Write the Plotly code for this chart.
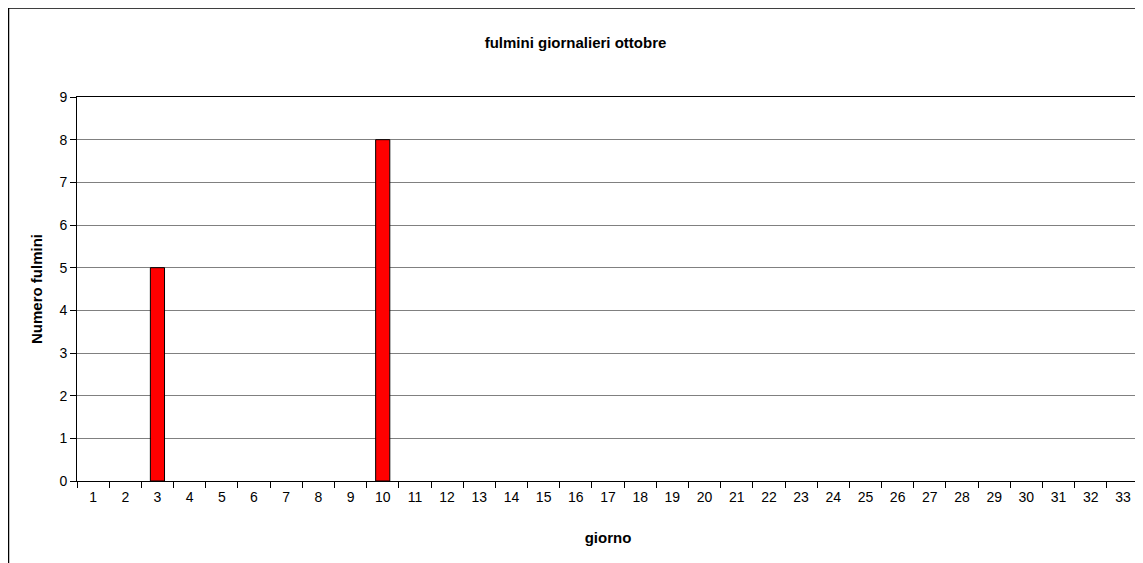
'''
    Bar chart of the daily lightning strikes in October.
'''

import plotly.graph_objects as go

giorni = [str(g) for g in range(1, 34)]
fulmini = [0, 0, 5, 0, 0, 0, 0, 0, 0, 8,
           0, 0, 0, 0, 0, 0, 0, 0, 0, 0,
           0, 0, 0, 0, 0, 0, 0, 0, 0, 0,
           0, 0, 0]

FONT = "Liberation Sans, Arial, sans-serif"

# Excel leaves the zero days empty
fig = go.Figure(go.Bar(
    x=giorni, y=[v if v else None for v in fulmini],
    marker=dict(color="#ff0000", line=dict(color="black", width=1)),
))

# the page body has an 8px margin, so the figure starts at (8, 8)
fig.update_layout(
    width=1135, height=555,
    margin=dict(l=69, r=4, t=89, b=82),
    paper_bgcolor="white", plot_bgcolor="white",
    bargap=0.56,
    showlegend=False,
    font=dict(family=FONT, size=14, color="black"),
    title=dict(text="<b>fulmini giornalieri ottobre</b>", x=0.5, xanchor="center",
               y=0.937, yanchor="middle", font=dict(size=15, family=FONT)),
)

fig.update_xaxes(
    type="category", tickson="boundaries", ticks="outside", ticklen=6,
    tickcolor="black", showline=True, linecolor="black", linewidth=1,
    mirror=True, showgrid=False, ticklabelstandoff=3,
    title=dict(text="<b>giorno</b>", font=dict(size=15), standoff=28),
)

fig.update_yaxes(
    range=[0, 9], dtick=1, ticks="outside", ticklen=6, tickcolor="black",
    showline=True, linecolor="black", linewidth=1, mirror=True,
    showgrid=True, gridcolor="#808080", gridwidth=1, zeroline=False,
    title=dict(text="<b>Numero fulmini</b>", font=dict(size=15), standoff=13),
)

# outer chart border
fig.add_shape(type="rect", xref="paper", yref="paper",
              x0=-0.0645, x1=1.01, y0=-0.25, y1=1.2318,
              line=dict(color="black", width=1.5), fillcolor="rgba(0,0,0,0)",
              layer="below")

fig.write_html("out.html")
